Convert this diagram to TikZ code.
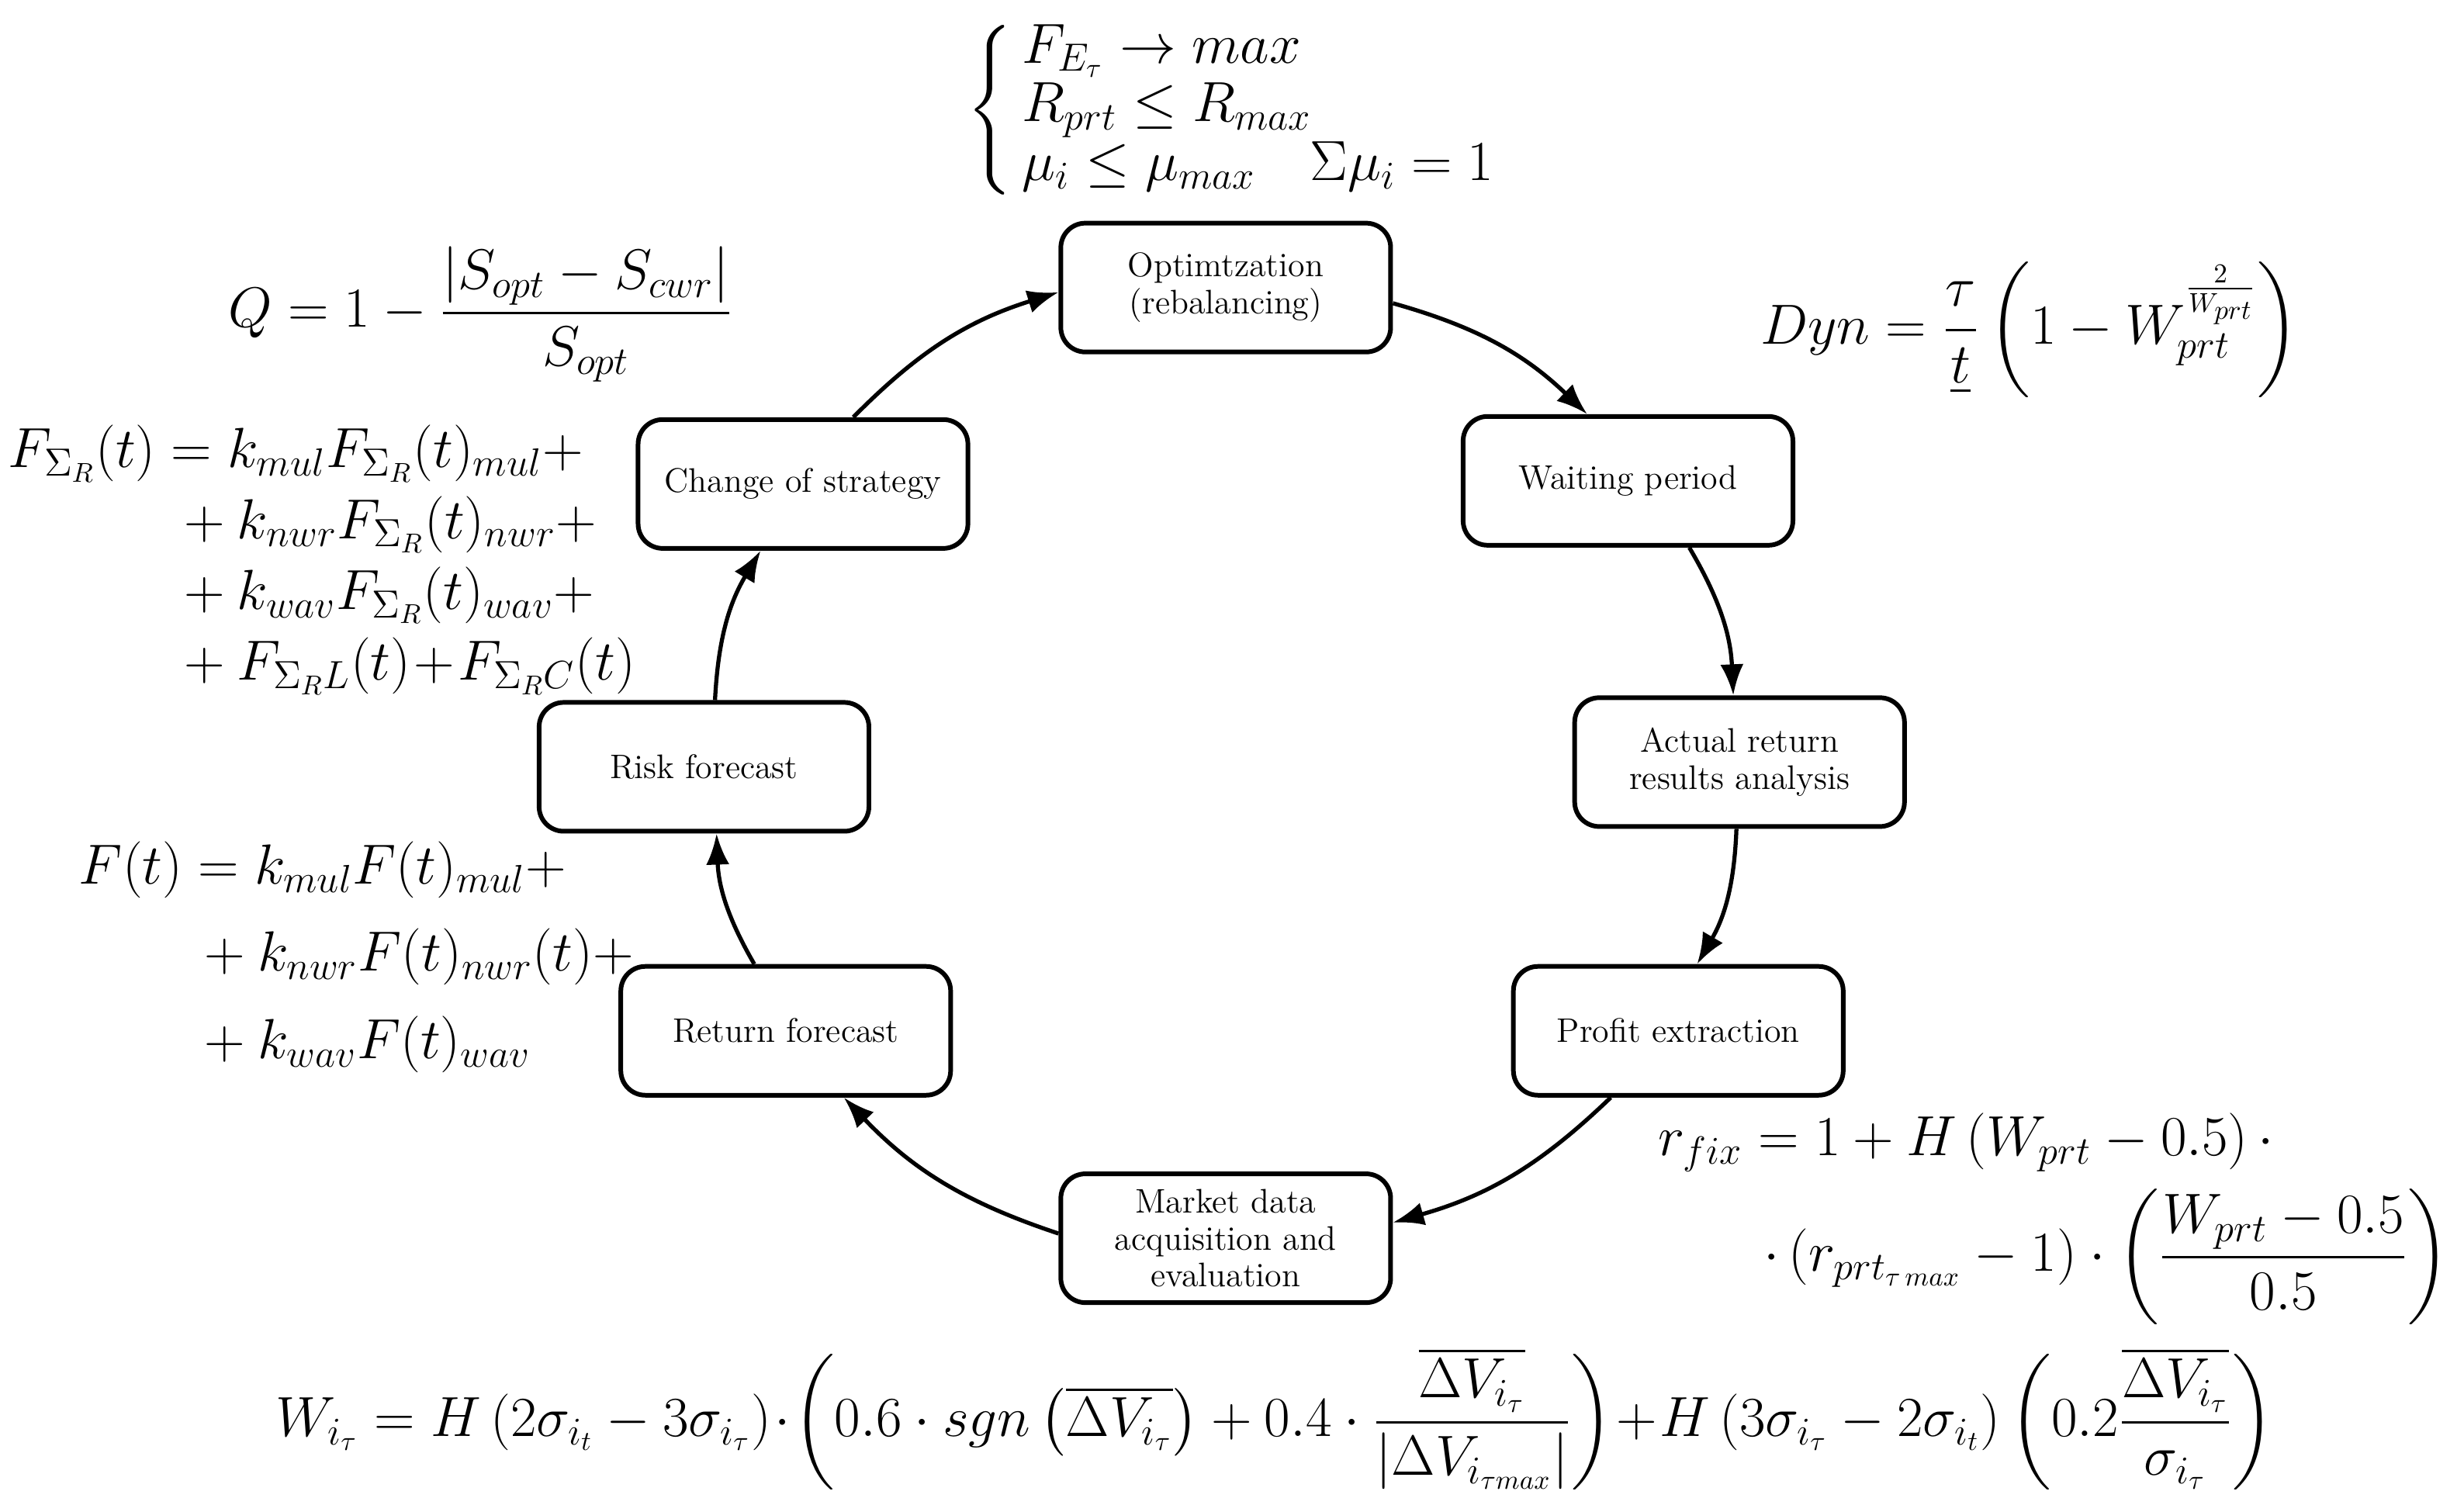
\documentclass[tikz,border=0pt]{standalone}
\usepackage{amsmath}
\usetikzlibrary{arrows.meta,calc}
\begin{document}
\begin{tikzpicture}[x=0.2025mm,y=-0.2025mm,
 box/.style={draw,line width=1.7pt,rounded corners=9pt,minimum width=42.5mm,minimum height=16.6mm,align=center,font=\fontsize{12.5}{13.5}\selectfont,inner sep=1pt},
 arr/.style={-{Latex[length=4mm,width=3mm]},line width=1.5pt,bend left=14},
 fm/.style={font=\fontsize{20}{24}\selectfont,inner sep=0pt}]
\useasboundingbox (0,0) rectangle (1568,962);
\node[box] (opt) at (780,183) {Optimtzation\\(rebalancing)};
\node[box] (wait) at (1036,306) {Waiting period};
\node[box] (act) at (1107,485) {Actual return\\results analysis};
\node[box] (prof) at (1068,656) {Profit extraction};
\node[box] (mkt) at (780,788) {Market data\\acquisition and\\evaluation};
\node[box] (ret) at (500,656) {Return forecast};
\node[box] (risk) at (448,488) {Risk forecast};
\node[box] (chg) at (511,308) {Change of strategy};
\draw[arr] ($(opt.east)+(0,10)$) to ($(wait.north)+(-26,0)$);
\draw[arr] ($(wait.south)+(39,0)$) to ($(act.north)+(-4,0)$);
\draw[arr] ($(act.south)+(-2,0)$) to ($(prof.north)+(12,0)$);
\draw[arr] ($(prof.south)+(-43,0)$) to ($(mkt.east)+(0,-10)$);
\draw[arr] ($(mkt.west)+(0,-3)$) to ($(ret.south)+(37,0)$);
\draw[arr] ($(ret.north)+(-20,0)$) to ($(risk.south)+(8,0)$);
\draw[arr] ($(risk.north)+(7,0)$) to ($(chg.south)+(-27,0)$);
\draw[arr] ($(chg.north)+(32,0)$) to ($(opt.west)+(0,3)$);
\node[fm,anchor=west] (sys) at (615,70) {$\left\{\renewcommand{\arraystretch}{0.9}\begin{array}{@{\,}l} F_{E_\tau}\to max\\ R_{prt}\le R_{max}\\ \mu_i\le\mu_{max}\quad \Sigma\mu_i=1\end{array}\right.$};
\node[fm,anchor=west] (q) at (145,200) {$Q=1-\dfrac{|S_{opt}-S_{cwr}|}{S_{opt}}$};
\node[fm,anchor=west] (dyn) at (1120,210) {$Dyn=\dfrac{\tau}{\underline{t}}\left(1-W_{prt}^{\frac{2}{W_{prt}}}\right)$};
\node[fm,anchor=north west] (fs) at (5,268) {$\begin{aligned} F_{\Sigma_R}(t) &= k_{mul}F_{\Sigma_R}(t)_{mul}+\\[-1pt] &\;+k_{nwr}F_{\Sigma_R}(t)_{nwr}+\\[-1pt] &\;+k_{wav}F_{\Sigma_R}(t)_{wav}+\\[-1pt] &\;+F_{\Sigma_RL}(t)\!+\!F_{\Sigma_RC}(t)\end{aligned}$};
\node[fm,anchor=north west] (ft) at (50,533) {$\begin{aligned} F(t) &= k_{mul}F(t)_{mul}+\\[5pt] &\,+k_{nwr}F(t)_{nwr}(t)+\\[5pt] &\,+k_{wav}F(t)_{wav}\end{aligned}$};
\node[fm,anchor=west] (r1) at (1055,727) {$r_{fix}=1+H\left(W_{prt}-0.5\right)\cdot$};
\node[fm,anchor=west] (r2) at (1122,800) {$\cdot\left(r_{prt_{\tau\,max}}-1\right)\cdot\left(\dfrac{W_{prt}-0.5}{0.5}\right)$};
\node[fm,anchor=west] (w) at (175,903) {$W_{i_\tau}=H\left(2\sigma_{i_t}-3\sigma_{i_\tau}\right)\!\cdot\!\left(0.6\cdot sgn\left(\overline{\Delta V_{i_\tau}}\right)+0.4\cdot\dfrac{\overline{\Delta V_{i_\tau}}}{\left|\Delta V_{i_{\tau max}}\right|}\right)\!+\!H\left(3\sigma_{i_\tau}-2\sigma_{i_t}\right)\left(0.2\dfrac{\overline{\Delta V_{i_\tau}}}{\sigma_{i_\tau}}\right)$};
\end{tikzpicture}
\end{document}
